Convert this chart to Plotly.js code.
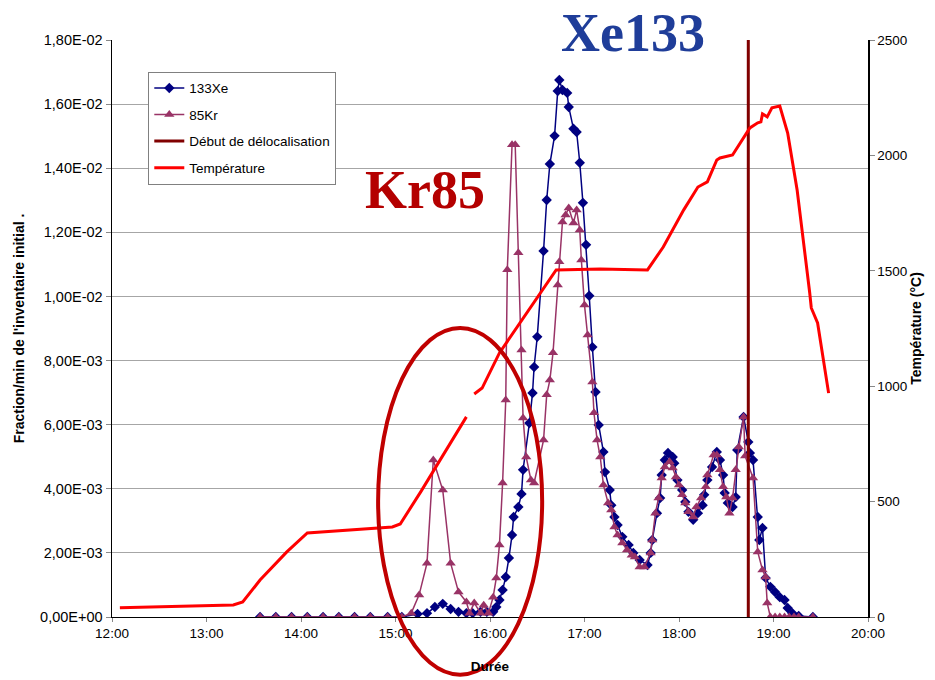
<!DOCTYPE html>
<html>
<head>
<meta charset="utf-8">
<script src="https://cdn.plot.ly/plotly-3.0.1.min.js"></script>
<style>html,body{margin:0;padding:0;background:#fff;}#chart{width:935px;height:680px;}</style>
</head>
<body>
<div id="chart"></div>
<script>
// ---- Data (times as HH:MM) ----
const xeTimes = ["13:34","13:44","13:54","14:04","14:14","14:24","14:34","14:44","14:55","15:04",
  "15:14","15:20","15:25","15:30","15:35","15:40","15:45","15:49","15:54","15:58","16:02","16:04","16:06","16:08","16:10","16:12","16:14","16:15","16:18","16:20","16:21","16:25","16:27","16:28","16:30","16:34","16:36","16:38","16:41","16:43","16:44","16:46","16:49","16:50","16:53","16:55","16:57","16:59","17:01","17:03","17:05","17:07","17:09","17:12","17:13","17:16","17:17","17:19","17:21","17:24","17:28","17:31","17:35","17:40","17:42","17:43","17:46","17:48","17:49","17:51","17:53","17:56","17:57","17:59","18:02","18:04","18:06","18:09","18:12","18:15","18:16","18:18","18:21","18:24","18:26","18:28","18:29","18:31","18:34","18:36","18:37","18:41","18:44","18:45","18:47","18:50","18:51","18:53","18:55","18:58","19:01","19:04","19:07","19:09","19:12","19:16","19:25"];
const xeValues = [0,0,0,0,0,0,0,0,0,0,
  9.4e-5,1.2e-4,3.1e-4,4.1e-4,2.5e-4,1.6e-4,1.2e-4,1.2e-4,1.6e-4,1.6e-4,1.6e-4,3.1e-4,5.3e-4,8.4e-4,1.25e-3,1.84e-3,2.56e-3,3.12e-3,3.43e-3,3.84e-3,4.59e-3,6.05e-3,6.99e-3,7.8e-3,8.74e-3,1.142e-2,1.301e-2,1.413e-2,1.501e-2,1.641e-2,1.675e-2,1.644e-2,1.635e-2,1.591e-2,1.523e-2,1.513e-2,1.417e-2,1.292e-2,1.161e-2,1.002e-2,8.42e-3,7.02e-3,5.99e-3,5.15e-3,4.52e-3,3.96e-3,3.49e-3,3.12e-3,2.87e-3,2.5e-3,2.25e-3,2.0e-3,1.78e-3,1.62e-3,2.0e-3,2.4e-3,3.24e-3,3.71e-3,4.43e-3,4.9e-3,5.12e-3,4.99e-3,4.8e-3,4.27e-3,3.96e-3,3.59e-3,3.28e-3,3.03e-3,3.24e-3,3.49e-3,3.81e-3,4.27e-3,4.68e-3,5.15e-3,4.9e-3,4.43e-3,3.87e-3,3.56e-3,3.43e-3,3.74e-3,5.21e-3,6.24e-3,5.46e-3,5.12e-3,4.9e-3,3.12e-3,2.4e-3,2.78e-3,1.22e-3,9.4e-4,7.8e-4,6.2e-4,5.3e-4,2.8e-4,1.2e-4,3e-5,0];

const krTimes = ["13:34","13:44","13:54","14:04","14:14","14:24","14:34","14:44","14:55","15:04",
  "15:10","15:15","15:20","15:24","15:30","15:35","15:40","15:45","15:47","15:50","15:54","15:56","15:59","16:02","16:04","16:06","16:08","16:10","16:11","16:14","16:16","16:18","16:20","16:21","16:23","16:26","16:28","16:34","16:36","16:38","16:40","16:43","16:44","16:46","16:48","16:50","16:53","16:55","16:57","16:58","17:00","17:02","17:05","17:06","17:08","17:10","17:12","17:15","17:17","17:19","17:21","17:24","17:27","17:30","17:32","17:35","17:38","17:42","17:43","17:45","17:47","17:49","17:51","17:54","17:56","17:58","18:00","18:02","18:04","18:06","18:09","18:11","18:14","18:17","18:18","18:22","18:24","18:26","18:28","18:30","18:32","18:34","18:36","18:38","18:41","18:42","18:47","18:50","18:53","18:55","18:56","18:58","19:01","19:04","19:07","19:10","19:13","19:16","19:25"];
const krValues = [0,0,0,0,0,0,0,0,0,0,
  1.2e-4,6.9e-4,1.68e-3,4.9e-3,3.96e-3,1.68e-3,7.8e-4,4.7e-4,1.2e-4,4.4e-4,1.2e-4,3.7e-4,1.2e-4,6.2e-4,1.22e-3,2.25e-3,4.18e-3,6.77e-3,1.083e-2,1.473e-2,1.473e-2,1.136e-2,8.33e-3,6.21e-3,4.99e-3,4.27e-3,4.18e-3,5.52e-3,6.93e-3,7.39e-3,8.24e-3,1.036e-2,1.108e-2,1.232e-2,1.254e-2,1.276e-2,1.229e-2,1.27e-2,1.207e-2,1.114e-2,9.73e-3,8.8e-3,7.33e-3,6.37e-3,5.52e-3,4.99e-3,4.12e-3,3.56e-3,3.34e-3,2.81e-3,2.56e-3,2.31e-3,2.09e-3,1.93e-3,1.87e-3,1.56e-3,1.56e-3,2.0e-3,2.4e-3,3.24e-3,3.71e-3,4.34e-3,4.68e-3,4.84e-3,4.65e-3,4.37e-3,4.12e-3,3.81e-3,3.56e-3,3.28e-3,3.12e-3,3.43e-3,3.71e-3,4.06e-3,4.43e-3,5.05e-3,5.05e-3,4.59e-3,4.06e-3,3.74e-3,3.24e-3,3.71e-3,4.59e-3,5.3e-3,6.24e-3,5.02e-3,4.34e-3,2.03e-3,1.47e-3,1.25e-3,4.4e-4,0,0,0,0,0,0,0,0];

const tempTimes = ["12:05","13:17","13:23","13:34","13:51","14:04","14:58","15:03","15:16","15:45","15:47","15:50","15:55","16:06","16:32","16:42","17:10","17:40","17:50","18:03","18:12","18:18","18:24","18:26","18:34","18:41","18:45","18:50","18:52","18:53","18:56","18:59","19:04","19:09","19:15","19:23","19:24","19:28","19:35"];
const tempValues = [40,52,65,160,282,364,390,403,542,867,null,966,992,1144,1404,1504,1508,1504,1603,1764,1863,1885,1980,1989,2002,2080,2119,2141,2145,2180,2167,2206,2214,2097,1850,1404,1339,1274,970];

const delocTimes = ["18:44","18:44"];
const delocValues = [0,2500];

const yTickVals = [0,0.002,0.004,0.006,0.008,0.010,0.012,0.014,0.016,0.018];
const yTickText = ["0,00E+00","2,00E-03","4,00E-03","6,00E-03","8,00E-03","1,00E-02","1,20E-02","1,40E-02","1,60E-02","1,80E-02"];

const DAY = "2000-01-01 ";
const toDate = arr => arr.map(t => DAY + t);

const font = "Liberation Sans, Arial, sans-serif";
const serif = "Liberation Serif, Times New Roman, serif";

const traces = [
  {x: toDate(xeTimes), y: xeValues, name: "133Xe", type: "scatter", mode: "lines+markers",
   line: {color: "#000080", width: 1.5}, marker: {symbol: "diamond", size: 8, color: "#000080"},
   legendgroup: "a"},
  {x: toDate(krTimes), y: krValues, name: "85Kr", type: "scatter", mode: "lines+markers",
   line: {color: "#993366", width: 1.5}, marker: {symbol: "triangle-up", size: 9, color: "#993366"},
   legendgroup: "b"},
  {x: toDate(delocTimes), y: delocValues, name: "Début de délocalisation", type: "scatter", mode: "lines",
   yaxis: "y2", line: {color: "#800000", width: 3}, legendgroup: "c"},
  {x: toDate(tempTimes), y: tempValues, name: "Température", type: "scatter", mode: "lines",
   yaxis: "y2", connectgaps: false, line: {color: "#FF0000", width: 3}, legendgroup: "d"}
];

const layout = {
  width: 935, height: 680,
  margin: {l: 112, r: 67, t: 40, b: 63},
  paper_bgcolor: "#ffffff", plot_bgcolor: "#ffffff",
  font: {family: font, size: 13, color: "#000"},
  showlegend: true,
  legend: {x: 0.048, y: 0.945, xanchor: "left", yanchor: "top", bgcolor: "#ffffff",
           bordercolor: "#808080", borderwidth: 1, font: {family: font, size: 13.5, color: "#000"},
           traceorder: "grouped", tracegroupgap: 6, itemwidth: 30},
  xaxis: {type: "date", range: [DAY + "12:00", DAY + "20:00"], dtick: 3600000, tickformat: "%H:%M",
          showgrid: false, showline: true, linecolor: "#000", linewidth: 1, ticks: "outside", ticklen: 4,
          tickcolor: "#888", zeroline: false, tickfont: {family: font, size: 13.5},
          title: {text: "Durée", font: {family: font, size: 13.5, weight: "bold"}, standoff: 21}},
  yaxis: {range: [0, 0.018], tickvals: yTickVals, ticktext: yTickText, showgrid: true, gridcolor: "#A6A6A6",
          gridwidth: 1, showline: true, linecolor: "#000", linewidth: 1.5, ticks: "outside", ticklen: 5,
          tickcolor: "#888", zeroline: false, tickfont: {family: font, size: 14.5},
          title: {text: "Fraction/min de l'inventaire initial .", font: {family: font, size: 14, weight: "bold"}, standoff: 12}},
  yaxis2: {range: [0, 2500], dtick: 500, overlaying: "y", side: "right", showgrid: false, showline: true,
           linecolor: "#000", linewidth: 1.5, ticks: "outside", ticklen: 5, tickcolor: "#888", zeroline: false,
           tickfont: {family: font, size: 13.5},
           title: {text: "Température (°C)", font: {family: font, size: 14, weight: "bold"}, standoff: 5}},
  shapes: [
    {type: "circle", xref: "paper", yref: "paper", x0: 0.352, x1: 0.569, y0: -0.1, y1: 0.501,
     line: {color: "#C00000", width: 4}, layer: "above"}
  ],
  annotations: [
    {text: "<b>Xe133</b>", xref: "paper", yref: "paper", x: 0.689, y: 1.012, xanchor: "center", yanchor: "middle",
     showarrow: false, font: {family: serif, size: 54, color: "#1F3D99"}},
    {text: "<b>Kr85</b>", xref: "paper", yref: "paper", x: 0.414, y: 0.74, xanchor: "center", yanchor: "middle",
     showarrow: false, font: {family: serif, size: 54, color: "#B40000"}}
  ]
};

Plotly.newPlot("chart", traces, layout, {displayModeBar: false, staticPlot: true});
</script>
</body>
</html>
